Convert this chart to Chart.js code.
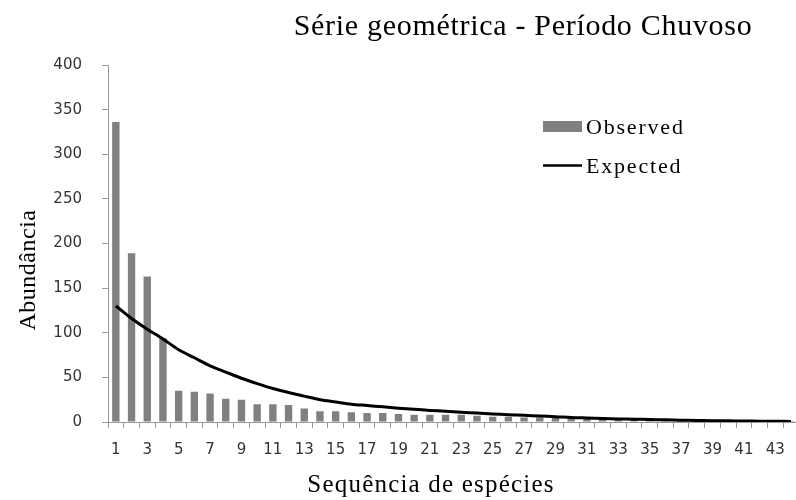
<!DOCTYPE html>
<html>
<head>
<meta charset="utf-8">
<title>Série geométrica - Período Chuvoso</title>
<script src="https://cdn.jsdelivr.net/npm/chart.js@4.4.0/dist/chart.umd.min.js"></script>
<style>
  html, body { margin: 0; padding: 0; background: #fff; overflow: hidden; }
  #wrap { position: relative; width: 804px; height: 500px; }
</style>
</head>
<body>
<div id="wrap"><canvas id="chart"></canvas></div>
<script>
// species rank (x axis categories)
const species = ["1", "2", "3", "4", "5", "6", "7", "8", "9", "10",
  "11", "12", "13", "14", "15", "16", "17", "18", "19", "20",
  "21", "22", "23", "24", "25", "26", "27", "28", "29", "30",
  "31", "32", "33", "34", "35", "36", "37", "38", "39", "40",
  "41", "42", "43", "44"];

// observed abundance (bars)
const observed = [336, 189, 163, 94, 35, 34, 32, 26, 25, 20,
  20, 19, 15, 12, 12, 11, 10, 10, 9, 8,
  8, 8, 8, 7, 6, 6, 5, 5, 5, 5,
  4, 4, 4, 4, 4, 2, 2, 2, 1, 1,
  1, 1, 1, 1];

// expected abundance, geometric series (line)
const expected = [130, 116, 104, 93, 81, 72, 63, 56, 49, 43,
  37.5, 33, 29, 25, 22.5, 20, 18.5, 17, 15.5, 14.3,
  13, 12, 11, 10, 9, 8.2, 7.5, 6.7, 6, 5,
  4.5, 4, 3.5, 3.1, 2.8, 2.4, 2.1, 1.8, 1.5, 1.3,
  1.1, 0.9, 0.8, 0.7];

const yTicks = [0, 50, 100, 150, 200, 250, 300, 350, 400];

const chartTitle = "Série geométrica - Período Chuvoso";
const xTitle = "Sequência de espécies";
const yTitle = "Abundância";

const serif = '"Liberation Serif", "Times New Roman", serif';
const sans = '"DejaVu Sans", Verdana, sans-serif';

// title, axis titles and the legend box inside the plot
const annotate = {
  id: "annotate",
  afterDraw(chart) {
    const ctx = chart.ctx;
    const sets = chart.data.datasets;
    ctx.save();
    ctx.fillStyle = "#000";
    ctx.textBaseline = "alphabetic";

    ctx.textAlign = "center";
    ctx.letterSpacing = "0.7px";
    ctx.font = "30px " + serif;
    ctx.fillText(chartTitle, 523, 35);

    ctx.letterSpacing = "1.2px";
    ctx.font = "25px " + serif;
    ctx.fillText(xTitle, 431, 492);

    ctx.save();
    ctx.translate(35, 270);
    ctx.rotate(-Math.PI / 2);
    ctx.letterSpacing = "0.5px";
    ctx.font = "24px " + serif;
    ctx.fillText(yTitle, 0, 0);
    ctx.restore();

    // legend
    ctx.textAlign = "left";
    ctx.letterSpacing = "1.8px";
    ctx.font = "22px " + serif;
    ctx.fillStyle = sets[0].backgroundColor;
    ctx.fillRect(543, 121, 39, 11);
    ctx.fillStyle = "#000";
    ctx.fillText(sets[0].label, 586, 134);

    ctx.strokeStyle = sets[1].borderColor;
    ctx.lineWidth = 2.5;
    ctx.beginPath();
    ctx.moveTo(543, 165.5);
    ctx.lineTo(582, 165.5);
    ctx.stroke();
    ctx.fillText(sets[1].label, 586, 173);
    ctx.restore();
  }
};

const ctx = document.getElementById("chart").getContext("2d");
const chart = new Chart(ctx, {
  type: "bar",
  data: {
    labels: species,
    datasets: [
      {
        label: "Observed",
        data: observed,
        backgroundColor: "#808080",
        categoryPercentage: 1,
        barPercentage: 0.47,
        order: 1,
      },
      {
        type: "line",
        label: "Expected",
        data: expected,
        borderColor: "#000",
        borderWidth: 3,
        pointRadius: 0,
        tension: 0.3,
        fill: false,
        order: 0,
      },
    ],
  },
  options: {
    responsive: true,
    maintainAspectRatio: false,
    animation: false,
    layout: { padding: { top: 65, right: 2, bottom: 0, left: 0 } },
    plugins: {
      legend: { display: false },
      tooltip: { enabled: false },
      title: { display: false },
    },
    scales: {
      x: {
        offset: true,
        afterFit: (axis) => { axis.height = 78; },
        grid: {
          offset: true,
          drawOnChartArea: false,
          tickLength: 6,
          color: "#999",
        },
        border: { color: "#999" },
        ticks: {
          autoSkip: false,
          maxRotation: 0,
          padding: 13,
          color: "#333",
          font: { family: sans, size: 15 },
          callback: (v, i) => (i % 2 === 0 ? species[i] : ""),
        },
      },
      y: {
        min: 0,
        max: 400,
        afterFit: (axis) => { axis.width = 108; },
        afterBuildTicks: (axis) => {
          axis.ticks = yTicks.map((v) => ({ value: v }));
        },
        grid: {
          drawOnChartArea: false,
          tickLength: 6,
          color: "#999",
        },
        border: { color: "#999" },
        ticks: {
          padding: 20,
          color: "#333",
          font: { family: sans, size: 15 },
        },
      },
    },
  },
  plugins: [annotate],
});
</script>
</body>
</html>
